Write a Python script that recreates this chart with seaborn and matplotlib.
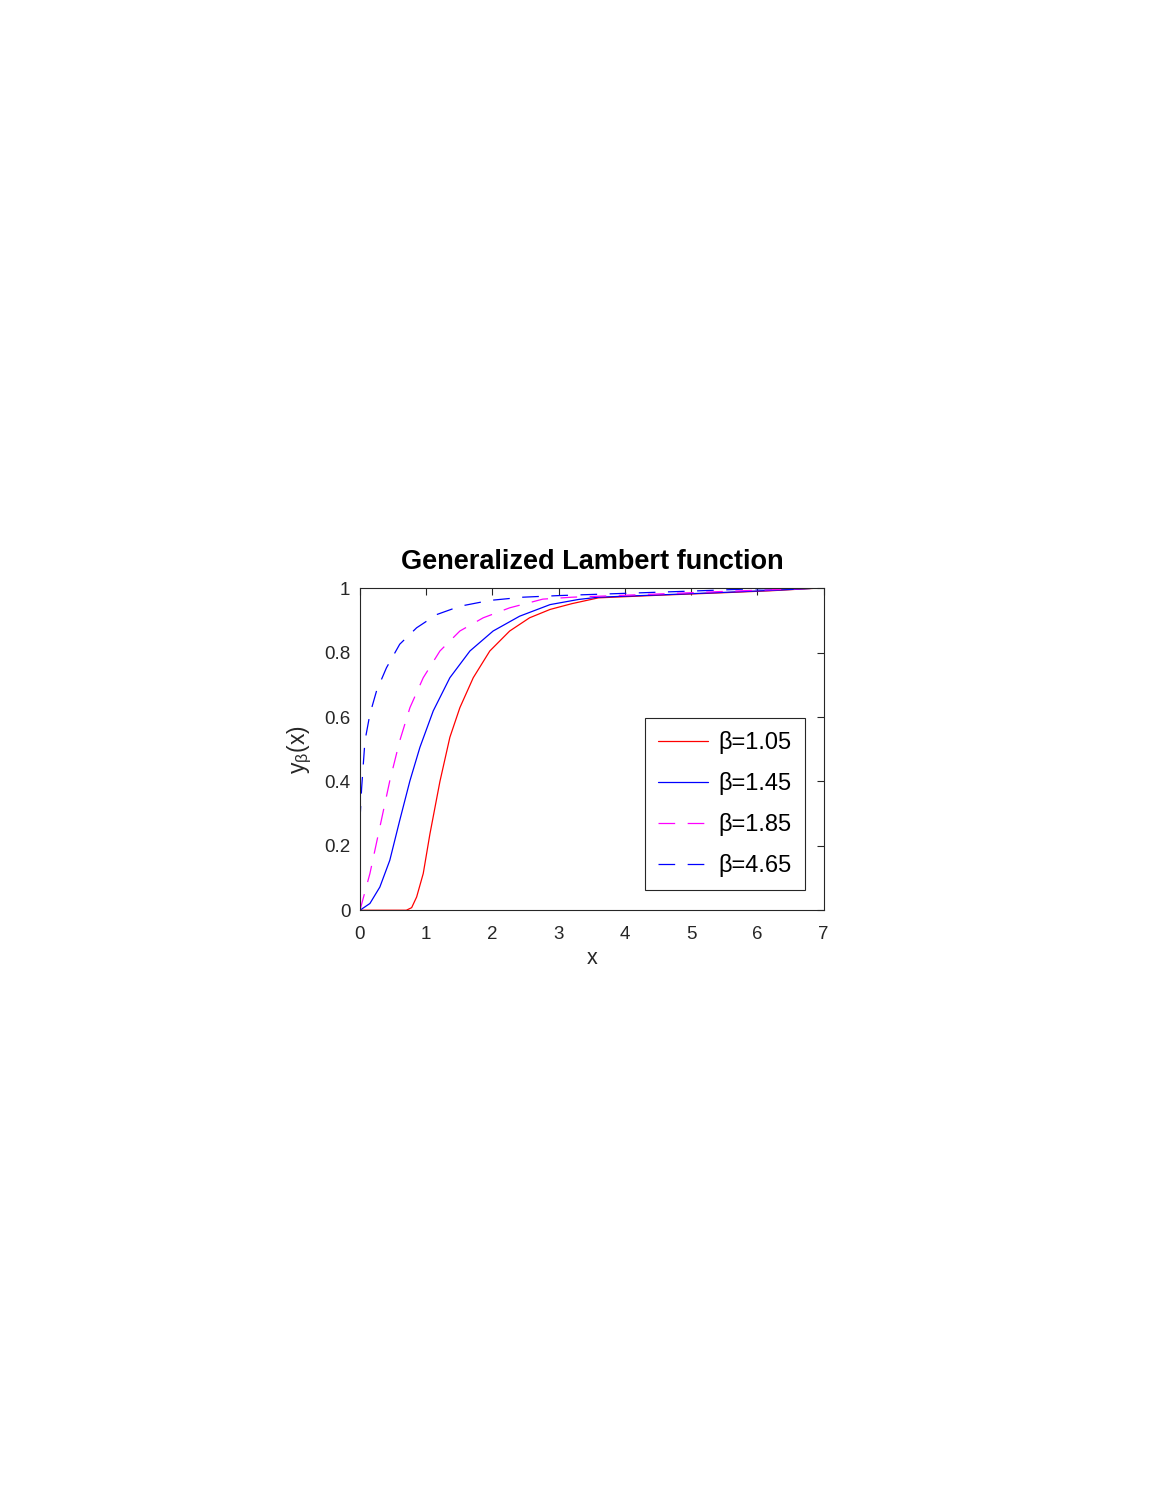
import matplotlib
matplotlib.use("Agg")
import matplotlib.pyplot as plt
import seaborn as sns

# Curvas (x, y) para cada beta
betas = ["1.05", "1.45", "1.85", "4.65"]

x_105 = [0.0, 0.70, 0.78, 0.855, 0.955, 1.056, 1.207, 1.357, 1.508, 1.71, 1.96,
         2.26, 2.56, 2.87, 3.2, 3.6, 4.5, 5.5, 6.2, 6.9]
y_105 = [0.0, 0.0, 0.008, 0.041, 0.114, 0.237, 0.40, 0.537, 0.629, 0.722, 0.805,
         0.867, 0.908, 0.934, 0.952, 0.970, 0.978, 0.986, 0.992, 1.0]

x_145 = [0.0, 0.15, 0.30, 0.45, 0.60, 0.754, 0.905, 1.106, 1.357, 1.66, 2.01,
         2.41, 2.87, 3.3, 3.6, 4.5, 5.5, 6.2, 6.8]
y_145 = [0.0, 0.021, 0.072, 0.155, 0.279, 0.402, 0.506, 0.619, 0.722, 0.805, 0.867,
         0.913, 0.949, 0.965, 0.972, 0.979, 0.987, 0.993, 0.999]

x_185 = [0.0, 0.15, 0.30, 0.45, 0.60, 0.754, 0.955, 1.207, 1.508, 1.86, 2.26,
         2.76, 3.2, 3.6, 4.5, 5.5, 6.2, 6.7]
y_185 = [0.0, 0.114, 0.258, 0.402, 0.526, 0.629, 0.722, 0.805, 0.867, 0.908, 0.939,
         0.966, 0.972, 0.975, 0.982, 0.990, 0.995, 0.999]

x_465 = [0.0, 0.005, 0.025, 0.075, 0.15, 0.25, 0.40, 0.60, 0.855, 1.157, 1.51,
         1.96, 2.46, 3.0, 4.0, 5.0, 5.8, 6.5]
y_465 = [0.0, 0.30, 0.38, 0.526, 0.609, 0.681, 0.753, 0.826, 0.877, 0.918, 0.944,
         0.962, 0.972, 0.977, 0.984, 0.991, 0.997, 1.0]

series_x = [x_105, x_145, x_185, x_465]
series_y = [y_105, y_145, y_185, y_465]
colores = ["#ff0000", "#0000ff", "#ff00ff", "#0000ff"]
estilos = ["-", "-", (0, (12, 9)), (0, (12, 9))]

sns.set_theme(style="white")
plt.rcParams["font.family"] = ["Liberation Sans", "DejaVu Sans"]
plt.rcParams["mathtext.fontset"] = "custom"
plt.rcParams["mathtext.rm"] = "Liberation Sans"
plt.rcParams["mathtext.it"] = "Liberation Sans"
plt.rcParams["lines.scale_dashes"] = False

fig = plt.figure(figsize=(11.65, 15.07), dpi=100)
ax = fig.add_axes([0.309, 0.396, 0.398, 0.2137])

for xs, ys, c, ls, b in zip(series_x, series_y, colores, estilos, betas):
    sns.lineplot(x=xs, y=ys, ax=ax, color=c, linestyle=ls, linewidth=0.9,
                 sort=False, estimator=None, label="β=" + b)

ax.set_xlim(0, 7)
ax.set_ylim(0, 1)
ax.set_xticks(range(0, 8))
ax.set_yticks([0, 0.2, 0.4, 0.6, 0.8, 1])
ax.set_yticklabels(["0", "0.2", "0.4", "0.6", "0.8", "1"])

gris = "#262626"
for s in ax.spines.values():
    s.set_color(gris)
    s.set_linewidth(0.8)
ax.tick_params(direction="in", top=True, right=True, length=5, width=0.8,
               colors=gris, labelsize=13.5)
ax.tick_params(axis="x", pad=11)
ax.tick_params(axis="y", pad=7)
for lbl in ax.get_xticklabels() + ax.get_yticklabels():
    lbl.set_color(gris)

ax.set_title("Generalized Lambert function", fontsize=19.5, fontweight="bold",
             pad=14, color="black")
ax.set_xlabel("x", fontsize=15.5, color=gris, labelpad=4)
ax.set_ylabel(r"$\mathregular{y_{\beta}(x)}$", fontsize=16.5, color=gris, labelpad=7)

leg = ax.legend(loc="lower right", bbox_to_anchor=(0.959, 0.062), fontsize=17,
                handlelength=2.1, handletextpad=0.45, labelspacing=0.76,
                borderpad=0.55, borderaxespad=0, frameon=True, fancybox=False,
                framealpha=1)
leg.get_frame().set_edgecolor(gris)
leg.get_frame().set_linewidth(0.8)
for t in leg.get_texts():
    t.set_color("black")

fig.savefig("out.png", dpi=100, facecolor="white")
plt.close(fig)
